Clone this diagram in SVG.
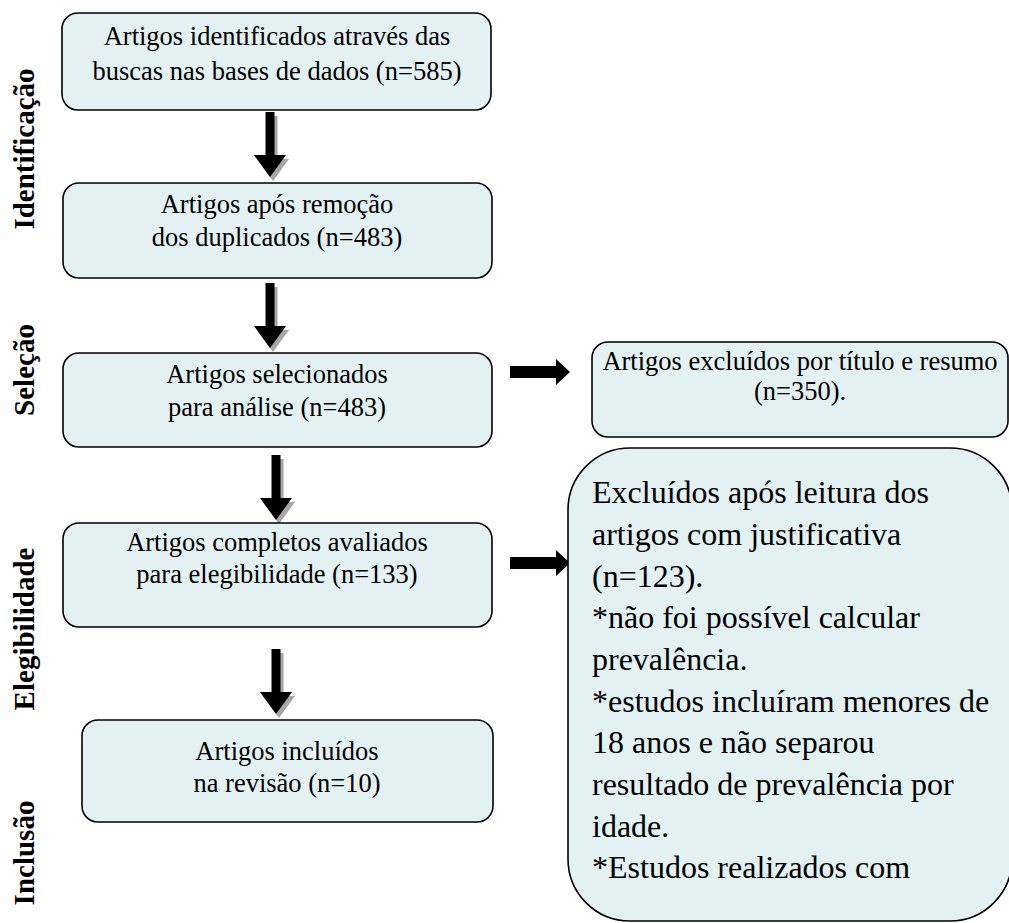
<svg xmlns="http://www.w3.org/2000/svg" width="1009" height="923" viewBox="0 0 1009 923">
<style>
.box{fill:#E3F1F3;stroke:#000;stroke-width:1.6}
.t{font-family:"Liberation Serif","Times New Roman",serif;font-size:26.5px;fill:#000;text-anchor:middle}
.big{font-family:"Liberation Serif","Times New Roman",serif;font-size:32px;fill:#000}
.lab{font-family:"Liberation Serif","Times New Roman",serif;font-size:29px;font-weight:bold;fill:#000;text-anchor:middle}
.arr{fill:#000}
.sh{fill:#A6A6A6}
</style>
<defs>
<path id="va" d="M-4.5,0 H4.5 V43 H16 L0,65 L-16,43 H-4.5 Z"/>
<path id="ha" d="M0,-6 H46 V-13 L60,0 L46,13 V6 H0 Z"/>
<clipPath id="bigclip"><rect x="568" y="448" width="444" height="458"/></clipPath>
</defs>
<g id="labels">
<text class="lab" transform="translate(34,149) rotate(-90)">Identificação</text>
<text class="lab" transform="translate(34,370) rotate(-90)">Seleção</text>
<text class="lab" transform="translate(34,629) rotate(-90)">Elegibilidade</text>
<text class="lab" transform="translate(34,853) rotate(-90)">Inclusão</text>
</g>
<g id="connectors">
<use href="#va" class="sh" x="273" y="116"/>
<use href="#va" class="arr" x="270" y="112"/>
<use href="#va" class="sh" x="273" y="287"/>
<use href="#va" class="arr" x="270" y="283"/>
<use href="#va" class="sh" x="279" y="459"/>
<use href="#va" class="arr" x="276" y="455"/>
<use href="#va" class="sh" x="279" y="653"/>
<use href="#va" class="arr" x="276" y="649"/>
<use href="#ha" class="arr" x="510" y="372"/>
<use href="#ha" class="arr" x="510" y="563"/>
</g>
<g id="n1">
<rect class="box" x="62" y="13" width="429" height="97" rx="16"/>
<text class="t" x="277" y="45">Artigos identificados através das</text>
<text class="t" x="277" y="80">buscas nas bases de dados (n=585)</text>
</g>
<g id="n2">
<rect class="box" x="63" y="183" width="429" height="95" rx="16"/>
<text class="t" x="277" y="213">Artigos após remoção</text>
<text class="t" x="277" y="246">dos duplicados (n=483)</text>
</g>
<g id="n3">
<rect class="box" x="63" y="353" width="429" height="94" rx="16"/>
<text class="t" x="277" y="383">Artigos selecionados</text>
<text class="t" x="277" y="416">para análise (n=483)</text>
</g>
<g id="n4">
<rect class="box" x="63" y="523" width="429" height="104" rx="16"/>
<text class="t" x="277" y="551">Artigos completos avaliados</text>
<text class="t" x="277" y="583">para elegibilidade (n=133)</text>
</g>
<g id="n5">
<rect class="box" x="82" y="720" width="411" height="102" rx="16"/>
<text class="t" x="287" y="760">Artigos incluídos</text>
<text class="t" x="287" y="792">na revisão (n=10)</text>
</g>
<g id="r1">
<rect class="box" x="592" y="342" width="416" height="95" rx="16"/>
<text class="t" x="800" y="370">Artigos excluídos por título e resumo</text>
<text class="t" x="800" y="400">(n=350).</text>
</g>
<g id="r2">
<rect class="box" x="568" y="448" width="444" height="473" rx="62"/>
<g clip-path="url(#bigclip)">
<text class="big" x="592" y="503">Excluídos após leitura dos</text>
<text class="big" x="592" y="545">artigos com justificativa</text>
<text class="big" x="592" y="587">(n=123).</text>
<text class="big" x="592" y="628">*não foi possível calcular</text>
<text class="big" x="592" y="670">prevalência.</text>
<text class="big" x="592" y="712">*estudos incluíram menores de</text>
<text class="big" x="592" y="753">18 anos e não separou</text>
<text class="big" x="592" y="795">resultado de prevalência por</text>
<text class="big" x="592" y="837">idade.</text>
<text class="big" x="592" y="878">*Estudos realizados com</text>
</g>
</g>
</svg>
